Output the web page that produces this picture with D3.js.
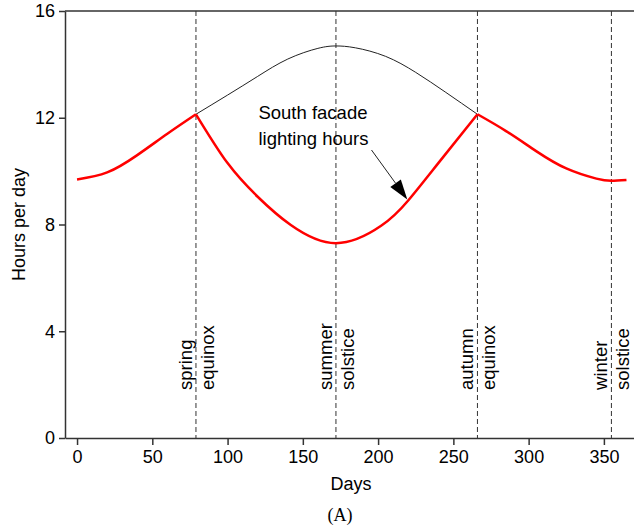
<!DOCTYPE html>
<html>
<head>
<meta charset="utf-8">
<script src="https://cdn.jsdelivr.net/npm/d3@7"></script>
<style>
  body { margin: 0; background: #fff; }
  text { font-family: "Liberation Sans", Arial, sans-serif; }
</style>
</head>
<body>
<div id="chart"></div>
<script>
const width = 634;
const height = 530;

// south facade lighting hours (red), split at the equinox corners
const juzniDani = [0, 20, 40, 60, 79, 100, 120, 142, 172, 202, 220, 240, 266, 285, 305, 325, 345, 355, 365];
const juzniSati = [9.69, 9.95, 10.6, 11.4, 12.13, 10.3, 9.04, 7.98, 7.3, 7.95, 8.9, 10.3, 12.13, 11.5, 10.75, 10.1, 9.72, 9.64, 9.67];

// day length between the equinoxes (thin black)
const dnevniDani = [79, 100, 120, 140, 160, 172, 185, 205, 225, 245, 266];
const dnevniSati = [12.13, 12.85, 13.55, 14.2, 14.6, 14.69, 14.62, 14.3, 13.7, 12.95, 12.13];

const dogadaji = [
  { dan: 79, lijevo: "spring", desno: "equinox" },
  { dan: 172, lijevo: "summer", desno: "solstice" },
  { dan: 266, lijevo: "autumn", desno: "equinox" },
  { dan: 355, lijevo: "winter", desno: "solstice" },
];

const xTicks = [0, 50, 100, 150, 200, 250, 300, 350];
const yTicks = [0, 4, 8, 12, 16];

const svg = d3
  .select("#chart")
  .append("svg")
  .attr("width", width)
  .attr("height", height);

const x = d3.scaleLinear().domain([-8, 370]).range([65, 634]);
const y = d3.scaleLinear().domain([0, 16]).range([438, 11]);

// axes
const xAxis = svg
  .append("g")
  .attr("transform", `translate(0,${y(0)})`)
  .call(d3.axisBottom(x).tickValues(xTicks).tickSize(7).tickPadding(5).tickSizeOuter(0));
const yAxis = svg
  .append("g")
  .attr("transform", `translate(${x(-8)},0)`)
  .call(d3.axisLeft(y).tickValues(yTicks).tickSize(6).tickPadding(4).tickSizeOuter(0));

[xAxis, yAxis].forEach((a) => {
  a.select(".domain").attr("stroke", "#333").attr("stroke-width", 1.5);
  a.selectAll(".tick line").attr("stroke", "#333").attr("stroke-width", 1.5);
  a.selectAll(".tick text")
    .attr("fill", "#000")
    .style("font-size", "18px")
    .style("font-family", "Liberation Sans, Arial, sans-serif");
});

// top frame line
svg
  .append("line")
  .attr("x1", x(-8))
  .attr("x2", x(370))
  .attr("y1", y(16))
  .attr("y2", y(16))
  .attr("stroke", "#333")
  .attr("stroke-width", 1.5);

// dashed event lines + labels
dogadaji.forEach((d) => {
  svg
    .append("line")
    .attr("x1", x(d.dan))
    .attr("x2", x(d.dan))
    .attr("y1", y(16))
    .attr("y2", y(0))
    .attr("stroke", "#333")
    .attr("stroke-width", 1)
    .attr("stroke-dasharray", "5,3");

  svg
    .append("text")
    .attr("transform", `translate(${x(d.dan) - 4},${y(1.8)}) rotate(-90)`)
    .style("font-size", "18.5px")
    .text(d.lijevo);
  svg
    .append("text")
    .attr("transform", `translate(${x(d.dan) + 18},${y(1.8)}) rotate(-90)`)
    .style("font-size", "18.5px")
    .text(d.desno);
});

const linija = d3
  .line()
  .x((d) => x(d[0]))
  .y((d) => y(d[1]))
  .curve(d3.curveNatural);

const dnevni = dnevniDani.map((d, i) => [d, dnevniSati[i]]);
svg
  .append("path")
  .attr("d", linija(dnevni))
  .attr("fill", "none")
  .attr("stroke", "#222")
  .attr("stroke-width", 1);

const juzni = juzniDani.map((d, i) => [d, juzniSati[i]]);
const segmenti = [
  juzni.filter((d) => d[0] <= 79),
  juzni.filter((d) => d[0] >= 79 && d[0] <= 266),
  juzni.filter((d) => d[0] >= 266),
];
segmenti.forEach((s) => {
  svg
    .append("path")
    .attr("d", linija(s))
    .attr("fill", "none")
    .attr("stroke", "#ff0000")
    .attr("stroke-width", 2.5)
    .attr("stroke-linejoin", "round");
});

// annotation
svg
  .append("text")
  .attr("x", x(120.5))
  .attr("y", y(11.95))
  .style("font-size", "18.5px")
  .text("South facade");
svg
  .append("text")
  .attr("x", x(120.5))
  .attr("y", y(10.98))
  .style("font-size", "18.5px")
  .text("lighting hours");

const vrh = [x(219.4), y(8.94)];
const pocetak = [371.5, 150];
const dx = vrh[0] - pocetak[0];
const dy = vrh[1] - pocetak[1];
const len = Math.sqrt(dx * dx + dy * dy);
const ux = dx / len;
const uy = dy / len;
const glava = 20;
const pola = 6.5;
const baza = [vrh[0] - ux * glava, vrh[1] - uy * glava];
svg
  .append("line")
  .attr("x1", pocetak[0])
  .attr("y1", pocetak[1])
  .attr("x2", baza[0])
  .attr("y2", baza[1])
  .attr("stroke", "#222")
  .attr("stroke-width", 1);
svg
  .append("path")
  .attr(
    "d",
    `M${vrh[0]},${vrh[1]}L${baza[0] - uy * pola},${baza[1] + ux * pola}L${baza[0] + uy * pola},${baza[1] - ux * pola}Z`
  )
  .attr("fill", "#000");

// axis titles
svg
  .append("text")
  .attr("transform", `translate(25,${y(8)}) rotate(-90)`)
  .attr("text-anchor", "middle")
  .style("font-size", "18px")
  .text("Hours per day");
svg
  .append("text")
  .attr("x", 351)
  .attr("y", 490)
  .attr("text-anchor", "middle")
  .style("font-size", "18px")
  .text("Days");
svg
  .append("text")
  .attr("x", 340)
  .attr("y", 521)
  .attr("text-anchor", "middle")
  .style("font-family", "Liberation Serif, Times New Roman, serif")
  .style("font-size", "18px")
  .text("(A)");
</script>
</body>
</html>
